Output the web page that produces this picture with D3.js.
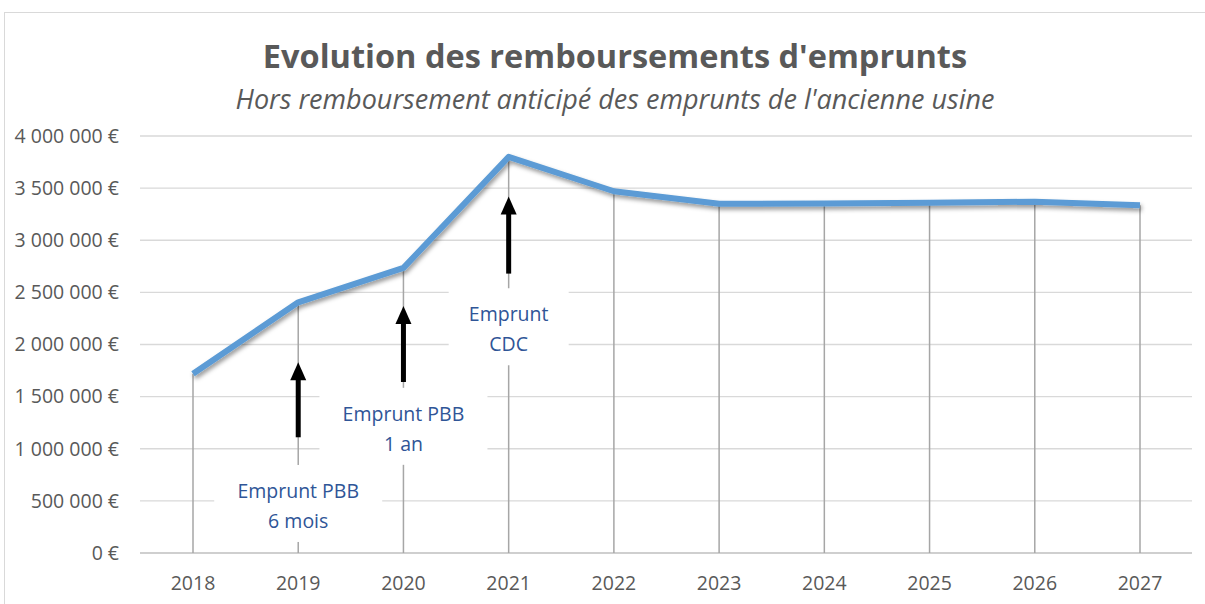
<!DOCTYPE html>
<html><head><meta charset="utf-8">
<script src="https://cdn.jsdelivr.net/npm/d3@7"></script>
<style>body{margin:0;background:#fff}svg{display:block}text{font-family:"Open Sans","Noto Sans",sans-serif}</style>
</head><body><svg id="c" width="1205" height="604"></svg>
<script>
const years = ["2018","2019","2020","2021","2022","2023","2024","2025","2026","2027"];
const values = [1720000,2405000,2735000,3800000,3470000,3350000,3352000,3360000,3370000,3335000];
const yTicks = [0,500000,1000000,1500000,2000000,2500000,3000000,3500000,4000000];
const annoYears = ["2019","2020","2021"];
const annoLabels = [["Emprunt PBB","6 mois"],["Emprunt PBB","1 an"],["Emprunt","CDC"]];
const arrowBase = [1110000,1640000,2680000];
const arrowTip = [1830000,2370000,3420000];
const labelCenter = [480000,1220000,2175000];
const labelWidth = [168,168,120];

const svg = d3.select("#c");
const defs = svg.append("defs");
const f = defs.append("filter").attr("id","sh").attr("x","-10%").attr("y","-10%").attr("width","120%").attr("height","130%");
f.append("feDropShadow").attr("dx",1.5).attr("dy",3).attr("stdDeviation",2).attr("flood-color","#000").attr("flood-opacity",0.4);

// frame
svg.append("rect").attr("x",4.5).attr("y",12.5).attr("width",1230).attr("height",620).attr("fill","none").attr("stroke","#d9d9d9");

const x = d3.scalePoint().domain(years).range([193,1140]);
const y = d3.scaleLinear().domain([0,4000000]).range([553,136]);

// gridlines
svg.append("g").selectAll("line").data(yTicks).join("line")
  .attr("x1",140).attr("x2",1192).attr("y1",d=>y(d)).attr("y2",d=>y(d))
  .attr("stroke",d=>d===0?"#bfbfbf":"#d9d9d9").attr("stroke-width",1.3);

// y axis labels
const fmt = v => (v===0?"0":d3.format(",")(v).replace(/,/g," "))+" €";
svg.append("g").selectAll("text").data(yTicks).join("text")
  .attr("x",119).attr("y",d=>y(d)).attr("dy","0.35em").attr("text-anchor","end")
  .attr("font-size",19.5).attr("fill","#595959").text(fmt);

// x axis labels
svg.append("g").selectAll("text").data(years).join("text")
  .attr("x",d=>x(d)).attr("y",583).attr("dy","0.35em").attr("text-anchor","middle")
  .attr("font-size",19.5).attr("fill","#595959").text(d=>d);

// drop lines
svg.append("g").selectAll("line").data(years).join("line")
  .attr("x1",d=>x(d)).attr("x2",d=>x(d)).attr("y1",(d,i)=>y(values[i])).attr("y2",y(0))
  .attr("stroke","#a6a6a6").attr("stroke-width",1.5);

// line
svg.append("path").datum(values)
  .attr("d",d3.line().x((d,i)=>x(years[i])).y(d=>y(d)))
  .attr("fill","none").attr("stroke","#5b9bd5").attr("stroke-width",6)
  .attr("stroke-linejoin","round").attr("filter","url(#sh)");

// annotation boxes first
annoYears.forEach((yr,i)=>{
  const cx = x(yr), cy = y(labelCenter[i]), w = labelWidth[i];
  svg.append("rect").attr("x",cx-w/2).attr("y",cy-38).attr("width",w).attr("height",77).attr("fill","#fff");
});
annoYears.forEach((yr,i)=>{
  const cx = x(yr), cy = y(labelCenter[i]);
  const t = svg.append("text").attr("x",cx).attr("text-anchor","middle").attr("font-size",19.5).attr("fill","#2f5597");
  annoLabels[i].forEach((s,j)=>t.append("tspan").attr("x",cx).attr("y",cy-12+j*30).attr("dy","0.35em").text(s));
  const yb = y(arrowBase[i]), yt = y(arrowTip[i]);
  svg.append("line").attr("x1",cx).attr("x2",cx).attr("y1",yb).attr("y2",yt+16).attr("stroke","#000").attr("stroke-width",5);
  svg.append("path").attr("d",`M${cx-8},${yt+18}L${cx},${yt}L${cx+8},${yt+18}Z`).attr("fill","#000");
});

// titles
svg.append("text").attr("x",615).attr("y",57).attr("dy","0.35em").attr("text-anchor","middle")
  .attr("font-size",32.5).attr("font-weight","bold").attr("fill","#595959").text("Evolution des remboursements d'emprunts");
svg.append("text").attr("x",615).attr("y",100).attr("dy","0.35em").attr("text-anchor","middle")
  .attr("font-size",27).attr("font-style","italic").attr("fill","#595959").text("Hors remboursement anticipé des emprunts de l'ancienne usine");
</script></body></html>
